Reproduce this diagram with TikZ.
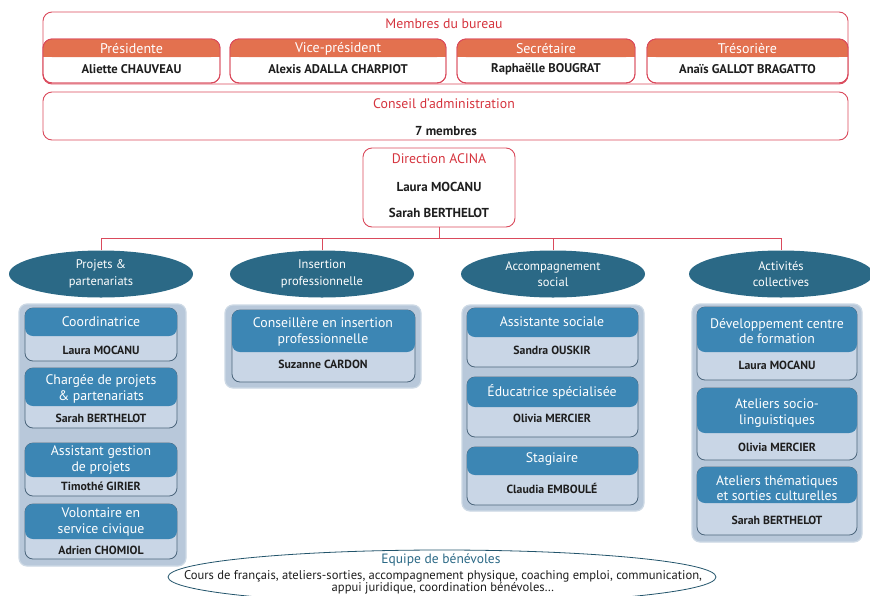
\documentclass[tikz,border=0pt]{standalone}
\usepackage{fontspec}
\setmainfont{PT Sans}
\usetikzlibrary{fit,shapes.geometric}
\definecolor{bred}{HTML}{DA4A5C}
\definecolor{bredtxt}{HTML}{D5343E}
\definecolor{borange}{HTML}{E3714F}
\definecolor{ellteal}{HTML}{2B6986}
\definecolor{panelbg}{HTML}{B8C8DA}
\definecolor{cardbg}{HTML}{C9D6E6}
\definecolor{cardline}{HTML}{4C667C}
\definecolor{cardhd}{HTML}{3C86B4}
\definecolor{txtc}{HTML}{1E1E1E}
\tikzset{
  bureaubox/.style={draw=bred, line width=0.9pt, rounded corners=9pt, inner sep=0pt},
  panelbox/.style={fill=panelbg, draw=panelbg!70!white, line width=1.2pt, rounded corners=8pt, inner sep=0pt},
  cardbody/.style={fill=cardbg, draw=cardline, line width=0.8pt, rounded corners=8pt, inner sep=0pt},
  cardhead/.style={fill=cardhd, rounded corners=8pt, inner sep=0pt},
  headtxt/.style={text=white, font=\fontsize{13.8}{15.5}\selectfont, align=center, inner sep=0pt},
  nametxt/.style={text=txtc, font=\fontsize{11.8}{13}\selectfont\bfseries, inner sep=0pt},
  bnametxt/.style={text=txtc, font=\fontsize{12.6}{14}\selectfont\bfseries, inner sep=0pt},
  dnametxt/.style={text=txtc, font=\fontsize{13}{14}\selectfont\bfseries, inner sep=0pt},
  bheadtxt/.style={text=white, font=\fontsize{14}{15}\selectfont, inner sep=0pt},
  redtitle/.style={text=bredtxt, font=\fontsize{13.8}{15}\selectfont, inner sep=0pt},
  pole/.style={ellipse, fill=ellteal, text=white, font=\fontsize{12.5}{16.5}\selectfont, align=center, inner sep=0pt, minimum width=184pt, minimum height=47pt},
  link/.style={draw=bred, line width=1pt}
}
\newcommand\orgcard[6]{%
  \node[cardbody, fit={(#2,#3)(#4,#5)}] (#1) {};
  \node[cardhead, fit={(#2,#3)(#4,#6)}] (#1h) {};
}
\newcommand\bureaucard[6]{%
  \node[bureaubox, fill=white, fit={(#2,#3)(#4,#5)}] (#1) {};
  \fill[borange, rounded corners=9pt] (#2,#3) rectangle (#4,#6);
  \fill[borange] (#2,#3+9) rectangle (#4,#6);
  \node[bureaubox, fit={(#2,#3)(#4,#5)}] (#1o) {};
}
\begin{document}
\begin{tikzpicture}[x=1pt,y=-1pt]
\useasboundingbox (0,0) rectangle (870,595);
% ---- Bureau
\node[bureaubox, fit={(43,12)(848,84)}] (bureau) {};
\node[redtitle] (bureaut) at (444,24) {Membres du bureau};
\bureaucard{pres}{43}{39}{220}{83}{57}
\bureaucard{vice}{230}{39}{446}{83}{57}
\bureaucard{secr}{457}{39}{635}{83}{57}
\bureaucard{treso}{647}{39}{848}{83}{57}
\node[bheadtxt] (prest) at (131.5,48.5) {Présidente};
\node[bheadtxt] (vicet) at (338,48.5) {Vice-président};
\node[bheadtxt] (secrt) at (546,48.5) {Secrétaire};
\node[bheadtxt] (tresot) at (747.5,48.5) {Trésorière};
\node[bnametxt] (presn) at (131.5,69) {Aliette CHAUVEAU};
\node[bnametxt] (vicen) at (338,69) {Alexis ADALLA CHARPIOT};
\node[bnametxt] (secrn) at (546,69) {Raphaëlle BOUGRAT};
\node[bnametxt] (treson) at (747.5,69) {Anaïs GALLOT BRAGATTO};
% ---- Conseil
\node[bureaubox, fit={(43,92)(848,140)}] (conseil) {};
\node[redtitle] (conseilt) at (444,104) {Conseil d'administration};
\node[dnametxt] (conseiln) at (446,131) {7 membres};
% ---- Direction
\node[bureaubox, fit={(363,148)(515,227)}] (dir) {};
\node[redtitle] (dirt) at (439,159) {Direction ACINA};
\node[dnametxt] (dirn1) at (439,187) {Laura MOCANU};
\node[dnametxt] (dirn2) at (439,213) {Sarah BERTHELOT};
% ---- Poles
\node[pole] (p1) at (101,274) {Projets \&\\partenariats};
\node[pole] (p2) at (322,274) {Insertion\\professionnelle};
\node[pole] (p3) at (553,274) {Accompagnement\\social};
\node[pole] (p4) at (781,274) {Activités\\collectives};
\coordinate (hb) at (439,238);
\draw[link] (dir.south) -- (dir.south |- hb);
\draw[link] (p1.north) -- (p1.north |- hb) -- (p4.north |- hb) -- (p4.north);
\draw[link] (p2.north) -- (p2.north |- hb);
\draw[link] (p3.north) -- (p3.north |- hb);
% ---- Panels
\node[panelbox, fit={(19,304)(186,566)}] (pan1) {};
\node[panelbox, fit={(225,305)(421,388)}] (pan2) {};
\node[panelbox, fit={(462,305)(644,511)}] (pan3) {};
\node[panelbox, fit={(692,304)(862,542)}] (pan4) {};
% column 1
\orgcard{c11}{25}{308}{177}{361}{336}
\orgcard{c12}{25}{368}{177}{428}{406}
\orgcard{c13}{25}{443}{177}{496}{477}
\orgcard{c14}{25}{504}{177}{559}{539}
\node[headtxt] (c11t) at (101,322) {Coordinatrice};
\node[nametxt] (c11n) at (101,350) {Laura MOCANU};
\node[headtxt] (c12t) at (101,389) {Chargée de projets\\\& partenariats};
\node[nametxt] (c12n) at (101,418) {Sarah BERTHELOT};
\node[headtxt] (c13t) at (101,460) {Assistant gestion\\de projets};
\node[nametxt] (c13n) at (101,486) {Timothé GIRIER};
\node[headtxt] (c14t) at (101,522) {Volontaire en\\service civique};
\node[nametxt] (c14n) at (101,550) {Adrien CHOMIOL};
% column 2
\orgcard{c21}{232}{310}{415}{382}{352}
\node[headtxt] (c21t) at (323,332) {Conseillère en insertion\\professionnelle};
\node[nametxt] (c21n) at (323,364) {Suzanne CARDON};
% column 3
\orgcard{c31}{467}{308}{638}{367}{337}
\orgcard{c32}{467}{377}{638}{437}{407}
\orgcard{c33}{467}{447}{638}{505}{475}
\node[headtxt] (c31t) at (552,322) {Assistante sociale};
\node[nametxt] (c31n) at (552,350) {Sandra OUSKIR};
\node[headtxt] (c32t) at (552,392) {Éducatrice spécialisée};
\node[nametxt] (c32n) at (552,418) {Olivia MERCIER};
\node[headtxt] (c33t) at (552,459) {Stagiaire};
\node[nametxt] (c33n) at (552,488) {Claudia EMBOULÉ};
% column 4
\orgcard{c41}{697}{307}{857}{380}{352}
\orgcard{c42}{697}{388}{857}{460}{433}
\orgcard{c43}{697}{467}{857}{535}{503}
\node[headtxt] (c41t) at (777,331) {Développement centre\\de formation};
\node[nametxt] (c41n) at (777,365) {Laura MOCANU};
\node[headtxt] (c42t) at (777,413) {Ateliers socio-\\linguistiques};
\node[nametxt] (c42n) at (777,447) {Olivia MERCIER};
\node[headtxt] (c43t) at (777,488) {Ateliers thématiques\\et sorties culturelles};
\node[nametxt] (c43n) at (777,520) {Sarah BERTHELOT};
% ---- Benevoles
\node[ellipse, draw=ellteal!80!black, line width=0.8pt, fill=white, minimum width=548pt, minimum height=54pt, inner sep=0pt] (benev) at (442,577) {};
\node[text=ellteal, font=\fontsize{13.5}{15}\selectfont, inner sep=0pt] (benevt) at (441,560) {Equipe de bénévoles};
\node[text=txtc, font=\fontsize{12.6}{12.5}\selectfont, align=center, inner sep=0pt] (benevn) at (443,582.5) {Cours de français, ateliers-sorties, accompagnement physique, coaching emploi, communication,\\appui juridique, coordination bénévoles…};
\end{tikzpicture}
\end{document}
